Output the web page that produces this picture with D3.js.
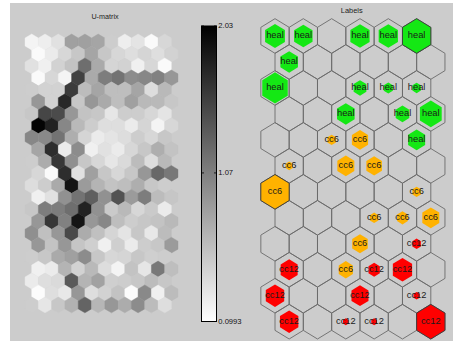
<!DOCTYPE html>
<html><head><meta charset="utf-8">
<script src="https://cdn.jsdelivr.net/npm/d3@7"></script>
<style>html,body{margin:0;padding:0;background:#fff}svg{display:block}</style>
</head><body><svg id="fig" width="453" height="341"></svg>
<script>
// U-matrix distances, 23 rows x 11 columns (odd rows shifted half a cell right)
const umatrix = [
  [0.18, 0.23, 0.33, 0.82, 0.82, 0.78, 0.48, 0.23, 0.30, 0.14, 0.40],
  [0.14, 0.25, 0.40, 0.52, 0.78, 0.52, 0.40, 0.35, 0.42, 0.35, 0.44],
  [0.33, 0.21, 0.44, 0.55, 1.20, 0.74, 0.42, 0.44, 0.21, 0.40, 0.14],
  [0.14, 0.40, 0.18, 1.54, 0.74, 1.08, 1.16, 0.97, 1.01, 1.05, 0.89],
  [0.48, 0.44, 0.44, 1.58, 0.61, 0.78, 0.59, 0.59, 0.78, 0.36, 0.63],
  [0.89, 0.44, 1.73, 0.52, 0.89, 0.74, 0.59, 0.82, 0.63, 0.63, 0.52],
  [0.52, 1.50, 1.46, 0.89, 0.55, 0.52, 0.29, 0.48, 0.48, 0.40, 0.30],
  [1.99, 1.77, 1.01, 0.63, 0.48, 0.35, 0.35, 0.25, 0.42, 0.18, 0.40],
  [1.01, 0.99, 1.16, 0.71, 0.42, 0.25, 0.30, 0.36, 0.48, 0.40, 0.52],
  [0.78, 1.69, 0.25, 0.97, 0.21, 0.33, 0.25, 0.40, 0.52, 0.71, 0.55],
  [0.48, 0.73, 1.61, 0.95, 0.52, 0.40, 0.29, 0.38, 0.61, 0.36, 0.63],
  [0.40, 0.14, 1.69, 0.33, 0.82, 0.52, 0.40, 0.52, 0.89, 1.24, 1.12],
  [0.36, 0.48, 0.74, 1.88, 0.86, 0.67, 0.55, 0.59, 0.71, 0.52, 0.48],
  [0.21, 0.33, 0.93, 1.16, 1.31, 0.93, 1.41, 0.86, 1.08, 0.61, 0.53],
  [0.52, 1.08, 1.08, 1.20, 1.77, 0.93, 0.50, 0.63, 0.40, 0.50, 0.25],
  [0.89, 1.61, 1.05, 1.88, 0.89, 1.01, 0.59, 0.48, 0.52, 0.55, 0.63],
  [0.95, 0.58, 0.89, 1.48, 0.73, 0.58, 0.42, 0.30, 0.52, 0.27, 0.61],
  [0.89, 0.55, 0.89, 0.54, 0.46, 0.21, 0.46, 0.25, 0.48, 0.52, 0.86],
  [0.48, 0.52, 0.74, 0.82, 0.97, 0.52, 0.40, 0.42, 0.52, 0.46, 0.48],
  [0.21, 0.25, 0.67, 0.44, 0.63, 0.36, 0.18, 0.55, 0.29, 1.12, 0.59],
  [0.25, 0.35, 0.38, 1.35, 0.67, 0.80, 0.46, 0.48, 0.52, 0.61, 0.52],
  [0.12, 0.35, 0.27, 0.89, 0.35, 0.44, 0.55, 0.12, 0.99, 0.21, 0.61],
  [0.48, 0.29, 0.52, 0.68, 1.27, 0.65, 0.89, 0.73, 0.97, 0.61, 0.35]
];
const umatMin = 0.0993, umatMax = 2.03;
const colorbarTicks = [2.03, 1.07, 0.0993];
const colorbarTickLabels = ["2.03", "1.07", "0.0993"];

// Label map: 12 rows x 6 columns, one entry per labelled unit
const mapRows = 12, mapCols = 6;
const hitRow   = [0, 0, 0, 0, 0, 1, 2, 2, 2, 2, 3, 3, 3, 4, 4, 4, 5, 5, 5, 6, 6, 7, 7, 7, 8, 8, 9, 9, 9, 9, 10, 10, 10, 11, 11, 11, 11];
const hitCol   = [0, 1, 3, 4, 5, 0, 0, 3, 4, 5, 2, 4, 5, 2, 3, 5, 0, 2, 3, 0, 5, 3, 4, 5, 3, 5, 0, 2, 3, 4, 0, 3, 5, 0, 2, 3, 5];
const hitLabel = ["heal", "heal", "heal", "heal", "heal", "heal", "heal", "heal", "heal", "heal",
                  "heal", "heal", "heal", "cc6", "cc6", "heal", "cc6", "cc6", "cc6", "cc6", "cc6",
                  "cc6", "cc6", "cc6", "cc6", "cc12", "cc12", "cc6", "cc12", "cc12",
                  "cc12", "cc12", "cc12", "cc12", "cc12", "cc12", "cc12"];
const hitSize  = [0.70, 0.65, 0.68, 0.68, 1.00, 0.62, 0.90, 0.45, 0.32, 0.30, 0.62, 0.48, 0.77,
                  0.30, 0.57, 0.60, 0.25, 0.60, 0.55, 1.00, 0.30, 0.30, 0.38, 0.60, 0.55, 0.30,
                  0.60, 0.50, 0.40, 0.68, 0.65, 0.60, 0.22, 0.65, 0.20, 0.20, 1.00];
const classColor = { heal: "rgb(20,232,20)", cc6: "rgb(255,178,0)", cc12: "rgb(255,0,0)" };

const svg = d3.select("#fig");
const W = 453, H = 341;

// figure background
svg.append("rect").attr("width", W).attr("height", H).attr("fill", "#ffffff");
svg.append("rect").attr("x", 10).attr("y", 3).attr("width", W - 10).attr("height", H - 3).attr("fill", "#cccccc");

// hexagon corner offsets in lattice units (row spacing 1, column spacing 1)
const hexVerts = [[0, -2/3], [0.5, -1/3], [0.5, 1/3], [0, 2/3], [-0.5, 1/3], [-0.5, -1/3]];
function hexPath(xs, ys, cx, cy, s) {
  return "M" + hexVerts.map(v => [xs(cx + v[0] * s), ys(cy + v[1] * s)].join(",")).join("L") + "Z";
}

// ---------- U-matrix ----------
const nUr = umatrix.length, nUc = umatrix[0].length;
const ux = d3.scaleLinear().domain([0, nUc - 0.5]).range([31.7, 178.0 - 6.65]);
const uy = d3.scaleLinear().domain([0, nUr - 1]).range([42, 304.9]);
const gray = d3.scaleLinear().domain([umatMin, umatMax]).range(["#ffffff", "#000000"]).clamp(true);

const ucells = [];
umatrix.forEach((row, r) => row.forEach((v, c) => ucells.push({ r, c, v })));
svg.append("g").selectAll("path").data(ucells).join("path")
  .attr("d", d => hexPath(ux, uy, d.c + (d.r % 2 ? 0.5 : 0), d.r, 1))
  .attr("fill", d => gray(d.v))
  .attr("stroke", d => gray(d.v))
  .attr("stroke-width", 0.4);

svg.append("text").attr("x", 105).attr("y", 17).attr("text-anchor", "middle")
  .attr("dominant-baseline", "middle")
  .attr("font-family", "Liberation Sans, Arial, sans-serif").attr("font-size", 7.2)
  .attr("fill", "#222").text("U-matrix");

// ---------- colorbar ----------
const cbX0 = 201.5, cbX1 = 216.5;
const cby = d3.scaleLinear().domain([umatMin, umatMax]).range([321.5, 26]);
const defs = svg.append("defs");
const grad = defs.append("linearGradient").attr("id", "cbgrad")
  .attr("x1", 0).attr("y1", 1).attr("x2", 0).attr("y2", 0);
grad.append("stop").attr("offset", 0).attr("stop-color", gray(umatMin));
grad.append("stop").attr("offset", 1).attr("stop-color", gray(umatMax));
svg.append("rect").attr("x", cbX0).attr("y", cby(umatMax)).attr("width", cbX1 - cbX0)
  .attr("height", cby(umatMin) - cby(umatMax)).attr("fill", "url(#cbgrad)")
  .attr("stroke", "#000").attr("stroke-width", 1);
const cbTicks = svg.append("g");
colorbarTicks.forEach((t, i) => {
  const y = cby(t);
  cbTicks.append("line").attr("x1", cbX0).attr("x2", cbX0 + 2.5).attr("y1", y).attr("y2", y)
    .attr("stroke", "#000").attr("stroke-width", 0.8);
  cbTicks.append("line").attr("x1", cbX1 - 2.5).attr("x2", cbX1).attr("y1", y).attr("y2", y)
    .attr("stroke", "#000").attr("stroke-width", 0.8);
  cbTicks.append("text").attr("x", cbX1 + 1.8).attr("y", y).attr("dominant-baseline", "middle")
    .attr("font-family", "Liberation Sans, Arial, sans-serif").attr("font-size", 7.6)
    .attr("fill", "#111").text(colorbarTickLabels[i]);
});

// ---------- label map ----------
const lx = d3.scaleLinear().domain([0, mapCols - 0.5]).range([275, 430.8]);
const ly = d3.scaleLinear().domain([0, mapRows - 1]).range([36, 321.7]);

const grid = [];
for (let r = 0; r < mapRows; r++) for (let c = 0; c < mapCols; c++) grid.push({ r, c });
svg.append("g").selectAll("path").data(grid).join("path")
  .attr("d", d => hexPath(lx, ly, d.c + (d.r % 2 ? 0.5 : 0), d.r, 1))
  .attr("fill", "none").attr("stroke", "#6b6b6b").attr("stroke-width", 0.9);

const hits = hitRow.map((r, i) => ({ r, c: hitCol[i], label: hitLabel[i], s: hitSize[i] }));
svg.append("g").selectAll("path").data(hits).join("path")
  .attr("d", d => hexPath(lx, ly, d.c + (d.r % 2 ? 0.5 : 0), d.r, d.s))
  .attr("fill", d => classColor[d.label])
  .attr("stroke", d => d.s >= 1 ? "#3a3a3a" : "none")
  .attr("stroke-width", 0.9);

svg.append("g").selectAll("text").data(hits).join("text")
  .attr("x", d => lx(d.c + (d.r % 2 ? 0.5 : 0)))
  .attr("y", d => ly(d.r))
  .attr("text-anchor", "middle").attr("dominant-baseline", "middle")
  .attr("font-family", "Liberation Sans, Arial, sans-serif").attr("font-size", 9.3)
  .attr("fill", "#1a1a1a").text(d => d.label);

svg.append("text").attr("x", 351.7).attr("y", 10.8).attr("text-anchor", "middle")
  .attr("dominant-baseline", "middle")
  .attr("font-family", "Liberation Sans, Arial, sans-serif").attr("font-size", 7.4)
  .attr("fill", "#222").text("Labels");
</script></body></html>
